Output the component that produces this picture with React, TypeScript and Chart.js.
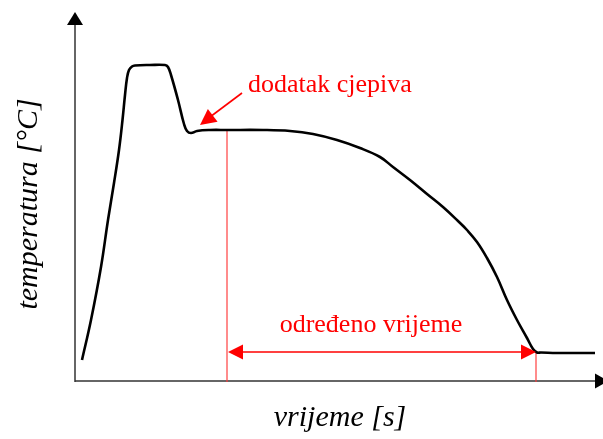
import { useEffect, useRef } from "react";
import { Chart, registerables } from "chart.js";

Chart.register(...registerables);

// time (arbitrary units from origin) and temperature (arbitrary units from origin)
const timeValues = [7, 16, 26, 33, 39, 44, 47.5, 50, 52, 54, 57, 60, 75, 90, 93, 96, 103, 109, 112, 116, 122, 135, 152, 188, 215, 238, 262, 285, 305, 318, 335, 352, 368, 383, 392, 402, 412, 422, 432, 442, 452, 458, 462, 466, 482, 520];
const tempValues = [21, 61, 114, 161, 198, 231, 261, 286, 303, 311, 314.5, 315.5, 316, 316, 314, 306, 281, 257, 250, 248, 250, 251, 251, 251, 250, 247, 241, 233, 224, 214, 201, 187, 174, 160, 151, 139, 123, 104, 81, 61, 43, 32, 28.5, 28.5, 28, 28];

const axisMax = { x: 528, y: 369 };
const additionTime = 152;
const additionTemp = 251;
const endTime = 461;
const endTemp = 29;
const additionPoint = { x: 125, y: 256 };

const labelAddition = "dodatak cjepiva";
const labelPeriod = "određeno vrijeme";
const xTitle = "vrijeme [s]";
const yTitle = "temperatura [°C]";

const SERIF = '"Liberation Serif", "Times New Roman", serif';

function arrowHead(ctx: CanvasRenderingContext2D, tx: number, ty: number, fx: number, fy: number, len: number, half: number) {
  const ang = Math.atan2(ty - fy, tx - fx);
  const bx = tx - Math.cos(ang) * len;
  const by = ty - Math.sin(ang) * len;
  const nx = -Math.sin(ang) * half;
  const ny = Math.cos(ang) * half;
  ctx.beginPath();
  ctx.moveTo(tx, ty);
  ctx.lineTo(bx + nx, by + ny);
  ctx.lineTo(bx - nx, by - ny);
  ctx.closePath();
  ctx.fill();
}

const decorPlugin = {
  id: "decor",
  beforeDatasetsDraw(chart: any) {
    const { ctx, scales } = chart;
    const x = scales.x, y = scales.y;
    const ox = x.getPixelForValue(0);
    const oy = y.getPixelForValue(0);
    ctx.save();
    ctx.strokeStyle = "#333";
    ctx.fillStyle = "#000";
    ctx.lineWidth = 1.5;
    // y axis
    const topY = y.getPixelForValue(axisMax.y);
    ctx.beginPath();
    ctx.moveTo(ox, oy + 1);
    ctx.lineTo(ox, topY + 10);
    ctx.stroke();
    arrowHead(ctx, ox, topY, ox, oy, 13, 8);
    // x axis
    const rightX = x.getPixelForValue(axisMax.x) + 5;
    ctx.beginPath();
    ctx.moveTo(ox, oy);
    ctx.lineTo(rightX - 10, oy);
    ctx.stroke();
    arrowHead(ctx, rightX, oy, ox, oy, 13, 7.5);

    // red vertical markers
    ctx.strokeStyle = "rgba(255,60,60,0.9)";
    ctx.lineWidth = 1.3;
    const ax = x.getPixelForValue(additionTime);
    const ex = x.getPixelForValue(endTime);
    const ay = y.getPixelForValue(additionTemp);
    const ey = y.getPixelForValue(endTemp);
    ctx.beginPath();
    ctx.moveTo(ax, ay);
    ctx.lineTo(ax, oy + 1);
    ctx.moveTo(ex, ey);
    ctx.lineTo(ex, oy + 1);
    ctx.stroke();
    ctx.restore();
  },
  afterDatasetsDraw(chart: any) {
    const { ctx, scales } = chart;
    const x = scales.x, y = scales.y;
    ctx.save();
    const red = "#ff0000";
    ctx.strokeStyle = red;
    ctx.fillStyle = red;
    // double arrow
    const ax = x.getPixelForValue(additionTime) + 1;
    const ex = x.getPixelForValue(endTime);
    const ay = y.getPixelForValue(endTemp);
    ctx.lineWidth = 1.5;
    ctx.beginPath();
    ctx.moveTo(ax + 10, ay);
    ctx.lineTo(ex - 10, ay);
    ctx.stroke();
    arrowHead(ctx, ax, ay, ex, ay, 15, 7.5);
    arrowHead(ctx, ex, ay, ax, ay, 15, 7.5);
    // addition arrow
    const tx = x.getPixelForValue(additionPoint.x);
    const ty = y.getPixelForValue(additionPoint.y);
    const fx = tx + 42;
    const fy = ty - 32;
    ctx.lineWidth = 1.6;
    ctx.beginPath();
    ctx.moveTo(fx, fy);
    ctx.lineTo(tx + 10, ty - 8);
    ctx.stroke();
    arrowHead(ctx, tx, ty, fx, fy, 16, 8);

    ctx.font = `26px ${SERIF}`;
    ctx.textBaseline = "alphabetic";
    ctx.textAlign = "left";
    ctx.fillText(labelAddition, 248, 92);
    ctx.textAlign = "center";
    ctx.fillText(labelPeriod, 371, 332);

    ctx.fillStyle = "#000";
    ctx.font = `italic 30px ${SERIF}`;
    ctx.fillText(xTitle, 340, 426);
    ctx.translate(37, 204);
    ctx.rotate(-Math.PI / 2);
    ctx.fillText(yTitle, 0, 0);
    ctx.restore();
  },
};

export default function App() {
  const ref = useRef<HTMLCanvasElement>(null);
  useEffect(() => {
    if (!ref.current) return;
    const chart = new Chart(ref.current, {
      type: "line",
      data: {
        datasets: [
          {
            data: timeValues.map((t, i) => ({ x: t, y: tempValues[i] })),
            borderColor: "#000",
            borderWidth: 2.6,
            pointRadius: 0,
            tension: 0.4,
            fill: false,
          },
        ],
      },
      options: {
        animation: false,
        responsive: false,
        layout: { padding: { left: 75, right: 0, top: 12, bottom: 58 } },
        plugins: { legend: { display: false }, tooltip: { enabled: false } },
        scales: {
          x: { type: "linear", min: 0, max: axisMax.x, display: false },
          y: { type: "linear", min: 0, max: axisMax.y, display: false },
        },
      },
      plugins: [decorPlugin],
    });
    return () => chart.destroy();
  }, []);
  return (
    <div style={{ position: "absolute", left: 0, top: 0, width: 603, height: 439, background: "#fff" }}>
      <canvas ref={ref} width={603} height={439} style={{ width: 603, height: 439 }} />
    </div>
  );
}
